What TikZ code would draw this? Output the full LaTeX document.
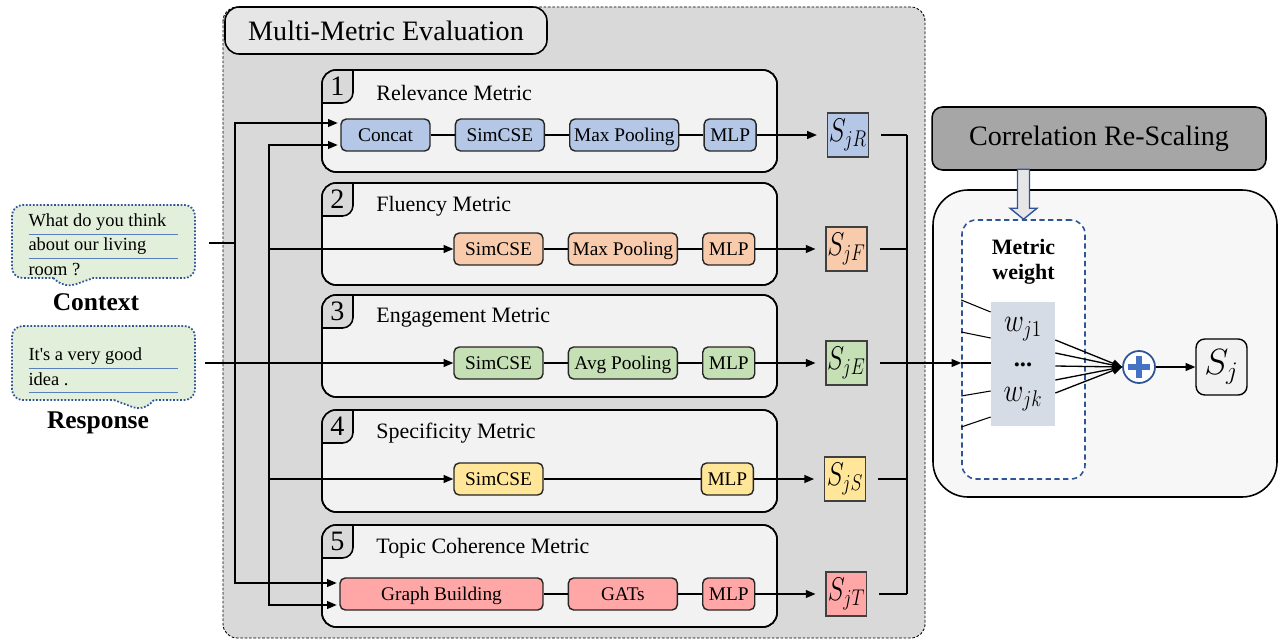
\documentclass[tikz,border=0pt]{standalone}
\usepackage{fontspec}
\setmainfont{Liberation Serif}
\usepackage{graphicx}
\usepackage{colortbl}
\usetikzlibrary{positioning,calc,arrows.meta,shapes.callouts}

\definecolor{relblue}{HTML}{B4C7E7}
\definecolor{fluorange}{HTML}{F8CBAD}
\definecolor{enggreen}{HTML}{C5E0B4}
\definecolor{speyellow}{HTML}{FFE699}
\definecolor{topred}{HTML}{FFA7A7}
\definecolor{evalgray}{HTML}{D9D9D9}
\definecolor{panelgray}{HTML}{F2F2F2}
\definecolor{titlegray}{HTML}{E6E6E6}
\definecolor{corrgray}{HTML}{A6A6A6}
\definecolor{rescalegray}{HTML}{F7F7F7}
\definecolor{weightgray}{HTML}{D6DCE5}
\definecolor{bubblegreen}{HTML}{E2EFDA}
\definecolor{darkblue}{HTML}{2F5597}
\definecolor{midblue}{HTML}{4472C4}
\definecolor{lineblue}{HTML}{5A7EC0}

\setlength{\arrayrulewidth}{0.8pt}
\newcommand{\scorelbl}[1]{\scalebox{0.85}[1.08]{$S_{j#1}$}}

\begin{document}
\begin{tikzpicture}[x=0.02cm, y=-0.02cm, node distance=0.48cm,
    >={Triangle[length=5.5pt,width=4.5pt]},
    every node/.style={inner sep=0pt},
    link/.style={line width=0.75pt},
    panel/.style={line width=0.9pt, rounded corners=8pt},
    opbox/.style={draw=black!85, line width=0.8pt, rounded corners=3pt, minimum height=0.64cm, text height=7.3pt, text depth=0pt, font=\fontsize{11}{13}\selectfont},
    scorebox/.style={draw=black!75, line width=0.6pt, minimum width=0.82cm, minimum height=0.88cm, font=\fontsize{17.28}{19}\selectfont},
    bubble/.style={rectangle callout, draw=darkblue, densely dotted, line width=1pt, fill=bubblegreen, rounded corners=6pt, minimum width=3.66cm, callout pointer width=0.8cm, font=\fontsize{10.5}{13}\selectfont},
    lbl/.style={font=\bfseries\fontsize{14.5}{17}\selectfont}
  ]
  \useasboundingbox (0,0) rectangle (1280,642);

  \draw[fill=evalgray, dash pattern=on 1.5pt off 1pt, line width=0.5pt, rounded corners=8pt] (223,7) rectangle (925,638);
  \node[draw, line width=0.9pt, fill=titlegray, rounded corners=8pt, minimum width=6.44cm, minimum height=0.94cm, font=\fontsize{16}{19}\selectfont] (evaltitle) at (386,30.5) {Multi-Metric Evaluation};

  \foreach \py/\idx/\ptitle in {70/1/Relevance Metric, 183/2/Fluency Metric, 295/3/Engagement Metric, 410/4/Specificity Metric, 525/5/Topic Coherence Metric} {
    \draw[panel, fill=panelgray] (322,\py) rectangle (777,\py+102);
    \begin{scope}
      \clip[rounded corners=8pt] (322,\py) rectangle (777,\py+102);
      \draw[fill=evalgray, line width=0.9pt, rounded corners=6pt] (300,\py-20) rectangle (353,\py+33);
    \end{scope}
    \draw[panel] (322,\py) rectangle (777,\py+102);
    \node[font=\fontsize{16}{19}\selectfont] (num\idx) at (337.5,\py+16.5) {\idx};
    \node[anchor=west, font=\fontsize{12.5}{15}\selectfont] (title\idx) at (376,\py+23) {\ptitle};
  }

  \draw[fill=rescalegray, line width=0.9pt, rounded corners=20pt] (933,190) rectangle (1277,497);
  \node[draw, line width=0.9pt, fill=corrgray, rounded corners=6pt, minimum width=6.68cm, minimum height=1.26cm, font=\fontsize{16}{19}\selectfont] (corr) at (1099,138.5) {Correlation Re-Scaling};
  \node[draw=darkblue, dash pattern=on 3pt off 2pt, line width=0.9pt, fill=white, rounded corners=8pt, minimum width=2.46cm, minimum height=5.18cm] (mw) at (1023.5,349.5) {};
  \draw[draw=darkblue, fill=titlegray, line width=0.8pt] (mw.north) -- ++(-13.5,-11) -- ++(7.5,0) -- ++(0,-39) -- ++(12,0) -- ++(0,39) -- ++(7.5,0) -- cycle;
  \node[align=center, font=\bfseries\fontsize{12.5}{14}\selectfont] (mwlabel) at (1023.5,262) {Metric\\weight};
  \node[fill=weightgray, minimum width=1.28cm, minimum height=2.48cm, align=center, font=\fontsize{17.28}{20}\selectfont] (wbox) at (1023,364) {\scalebox{0.9}[1.08]{$w_{j1}$}\\\textbf{\fontsize{14}{16}\selectfont...}\\\scalebox{0.9}[1.08]{$w_{jk}$}};
  \node[circle, draw=darkblue, line width=1pt, fill=white, minimum size=0.64cm] (plus) at (1139,367) {};
  \draw[midblue, line width=3pt] ($(plus)+(-11,0)$) -- ($(plus)+(11,0)$) ($(plus)+(0,-11)$) -- ($(plus)+(0,11)$);
  \node[draw, line width=0.8pt, fill=panelgray, rounded corners=5pt, minimum width=1.02cm, minimum height=1.12cm, font=\fontsize{20.74}{22}\selectfont] (sj) at (1221.5,367) {$S_j$};

  \node[opbox, fill=relblue, minimum width=1.78cm] (concat) at (385.5,135) {Concat};
  \node[opbox, fill=relblue, minimum width=1.78cm, right=of concat] (simR) {SimCSE};
  \node[opbox, fill=relblue, minimum width=2.18cm, right=of simR] (poolR) {Max Pooling};
  \node[opbox, fill=relblue, minimum width=1.04cm, right=of poolR] (mlpR) {MLP};
  \node[scorebox, fill=relblue, right=1.4cm of mlpR] (sR) {\scorelbl{R}};

  \node[opbox, fill=fluorange, minimum width=1.78cm] (simF) at (498.5,249) {SimCSE};
  \node[opbox, fill=fluorange, minimum width=2.18cm, right=of simF] (poolF) {Max Pooling};
  \node[opbox, fill=fluorange, minimum width=1.04cm, right=of poolF] (mlpF) {MLP};
  \node[scorebox, fill=fluorange, right=1.4cm of mlpF] (sF) {\scorelbl{F}};

  \node[opbox, fill=enggreen, minimum width=1.78cm] (simE) at (498.5,363) {SimCSE};
  \node[opbox, fill=enggreen, minimum width=2.18cm, right=of simE] (poolE) {Avg Pooling};
  \node[opbox, fill=enggreen, minimum width=1.04cm, right=of poolE] (mlpE) {MLP};
  \node[scorebox, fill=enggreen, right=1.4cm of mlpE] (sE) {\scorelbl{E}};

  \node[opbox, fill=speyellow, minimum width=1.78cm] (simS) at (498.5,479) {SimCSE};
  \node[opbox, fill=speyellow, minimum width=1.04cm, right=3.14cm of simS] (mlpS) {MLP};
  \node[scorebox, fill=speyellow, right=1.4cm of mlpS] (sS) {\scorelbl{S}};

  \node[opbox, fill=topred, minimum width=4.06cm] (gb) at (441.5,594) {Graph Building};
  \node[opbox, fill=topred, minimum width=2.18cm, right=of gb] (gats) {GATs};
  \node[opbox, fill=topred, minimum width=1.04cm, right=of gats] (mlpT) {MLP};
  \node[scorebox, fill=topred, right=1.4cm of mlpT] (sT) {\scorelbl{T}};

  \node[bubble, minimum height=1.46cm, callout absolute pointer={(65,288)}] (ctx) at (103.5,241.5)
    {\raisebox{-2.8pt}[\height][\depth]{\arrayrulecolor{lineblue}\begin{tabular}{@{}p{3cm}@{}}What do you think\\\hline about our living\\\hline room ?\end{tabular}}};
  \node[bubble, minimum height=1.48cm, callout absolute pointer={(143,411)}] (resp) at (103.5,363)
    {\raisebox{-3.5pt}[\height][\depth]{\arrayrulecolor{lineblue}\begin{tabular}{@{}p{3cm}@{}}It\textquotesingle s a very good\\\hline idea .\\\hline\end{tabular}}};
  \node[lbl] (ctxlabel) at (96,302) {Context};
  \node[lbl] (resplabel) at (98,423) {Response};

  \coordinate (cbus) at (235,243);
  \coordinate (rbus) at (269,363);
  \coordinate (sbus) at (907,0);
  \draw[link, shorten <=0.26cm] (ctx.east |- cbus) -- (cbus);
  \draw[link, <->, shorten <=1.5pt, shorten >=1.5pt] ($(concat.west)+(0,-12)$) -| (cbus) |- ($(gb.west)+(0,-11)$);
  \draw[link, <->, shorten <=1.5pt, shorten >=1.5pt] ($(concat.west)+(0,10)$) -| (rbus) |- ($(gb.west)+(0,11)$);
  \draw[link, ->, shorten <=0.18cm] (resp.east) -- (simE.west);
  \draw[link, ->] (rbus |- simF) -- (simF);
  \draw[link, ->] (rbus |- simS) -- (simS);

  \draw[link] (concat) -- (simR) -- (poolR) -- (mlpR);
  \draw[link] (simF) -- (poolF) -- (mlpF);
  \draw[link] (simE) -- (poolE) -- (mlpE);
  \draw[link] (simS) -- (mlpS);
  \draw[link] (gb) -- (gats) -- (mlpT);
  \foreach \m/\s in {mlpR/sR, mlpF/sF, mlpE/sE, mlpS/sS, mlpT/sT}
    \draw[link, ->, shorten >=0.2cm] (\m) -- (\s);

  \foreach \s in {sR, sF, sS, sT}
    \draw[link, shorten <=0.24cm] (\s) -- (\s -| sbus);
  \draw[link] (sR -| sbus) -- (sT -| sbus);
  \draw[link, ->, shorten <=0.24cm] (sE) -- (sE -| mw.west);
  \draw[link] (sE -| mw.west) -- (sE -| wbox.west);
  \foreach \a/\b in {-64/-52, -32/-26, 32/27, 63/53}
    \draw[line width=0.6pt] ($(mw.west |- wbox)+(0,\a)$) -- ($(wbox.west)+(0,\b)$);
  \foreach \a in {-24,-11,2,16,29}
    \draw[link, ->] ($(wbox.east)+(0,\a)$) -- (plus.west);
  \draw[link, ->] (plus) -- (sj);
\end{tikzpicture}
\end{document}
